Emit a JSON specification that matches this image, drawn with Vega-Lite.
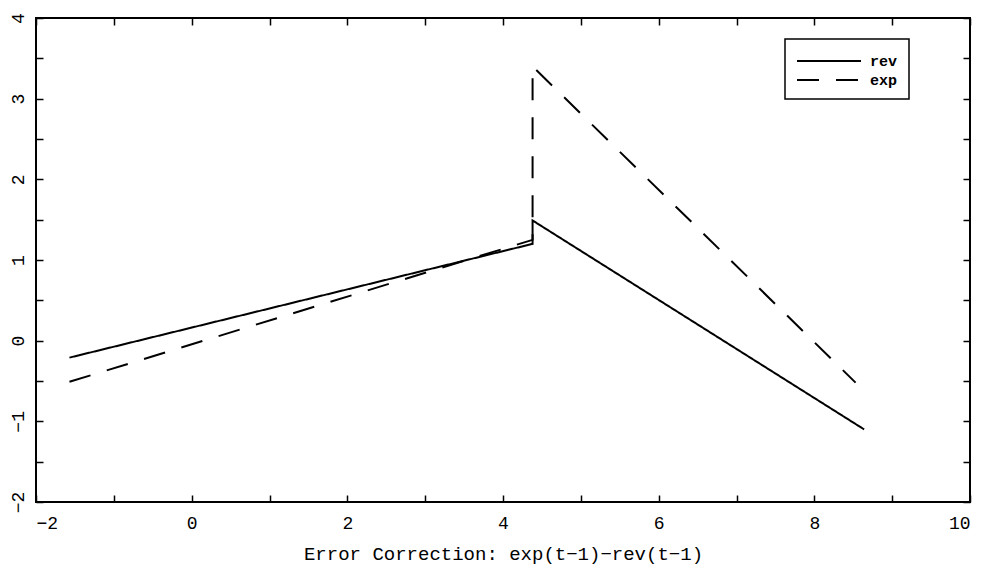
{
  "$schema": "https://vega.github.io/schema/vega-lite/v6.json",
  "width": 934,
  "height": 484,
  "autosize": {"type": "none"},
  "padding": {"left": 36, "top": 18, "right": 13, "bottom": 66},
  "background": "white",
  "config": {
    "view": {"stroke": "black", "strokeWidth": 2},
    "font": "Liberation Mono",
    "axis": {
      "grid": false,
      "domain": false,
      "tickColor": "black",
      "tickSize": -7,
      "tickWidth": 1.5,
      "labelFont": "Liberation Mono",
      "labelFontSize": 18,
      "labelColor": "black",
      "titleFont": "Liberation Mono",
      "titleFontSize": 19,
      "titleFontWeight": "normal",
      "titleColor": "black"
    }
  },
  "data": {
    "values": [
      {"series": "rev", "x": -1.57, "y": -0.21, "o": 1},
      {"series": "rev", "x": 4.38, "y": 1.2, "o": 2},
      {"series": "rev", "x": 4.38, "y": 1.49, "o": 3},
      {"series": "rev", "x": 8.64, "y": -1.1, "o": 4},
      {"series": "exp", "x": -1.57, "y": -0.51, "o": 1},
      {"series": "exp", "x": 4.38, "y": 1.25, "o": 2},
      {"series": "exp", "x": 4.38, "y": 3.4, "o": 3},
      {"series": "exp", "x": 8.53, "y": -0.52, "o": 4}
    ]
  },
  "layer": [
    {
      "mark": {"type": "line", "color": "black", "strokeWidth": 2},
      "encoding": {
        "x": {
          "field": "x", "type": "quantitative",
          "scale": {"domain": [-2, 10], "nice": false, "zero": false},
          "axis": {
            "orient": "bottom",
            "values": [-2, -1, 0, 1, 2, 3, 4, 5, 6, 7, 8, 9, 10],
            "labelExpr": "datum.value % 2 == 0 ? datum.label : ''",
            "labelPadding": 19,
            "title": "Error Correction: exp(t−1)−rev(t−1)",
            "titlePadding": 12
          }
        },
        "y": {
          "field": "y", "type": "quantitative",
          "scale": {"domain": [-2, 4], "nice": false, "zero": false},
          "axis": {
            "orient": "left",
            "values": [-2, -1.5, -1, -0.5, 0, 0.5, 1, 1.5, 2, 2.5, 3, 3.5, 4],
            "format": "~g",
            "labelExpr": "datum.value % 1 == 0 ? datum.label : ''",
            "labelAngle": -90,
            "labelAlign": "center",
            "labelBaseline": "bottom",
            "labelPadding": 16,
            "title": null
          }
        },
        "order": {"field": "o"},
        "detail": {"field": "series"},
        "strokeDash": {
          "field": "series", "type": "nominal",
          "scale": {"domain": ["rev", "exp"], "range": [[1, 0], [22, 17]]},
          "legend": {
            "title": null,
            "orient": "none",
            "legendX": 749,
            "legendY": 21,
            "strokeColor": "black",
            "padding": 11,
            "symbolType": "M-1,0L5.4,0",
            "symbolSize": 400,
            "symbolStrokeColor": "black",
            "symbolStrokeWidth": 2,
            "labelFont": "Liberation Mono",
            "labelFontSize": 15,
            "labelFontWeight": "bold",
            "labelColor": "black",
            "labelExpr": "datum.label + '\u00a0\u00a0'",
            "rowPadding": 0,
            "labelOffset": 52,
            "fillColor": "white",
            "encode": {"legend": {"update": {"strokeWidth": {"value": 1.5}}}}
          }
        }
      }
    },
    {
      "mark": {"type": "point", "opacity": 0},
      "encoding": {
        "x": {
          "field": "x", "type": "quantitative",
          "axis": {
            "orient": "top",
            "values": [-2, -1, 0, 1, 2, 3, 4, 5, 6, 7, 8, 9, 10],
            "labels": false,
            "title": null
          }
        },
        "y": {
          "field": "y", "type": "quantitative",
          "axis": {
            "orient": "right",
            "values": [-2, -1.5, -1, -0.5, 0, 0.5, 1, 1.5, 2, 2.5, 3, 3.5, 4],
            "labels": false,
            "title": null
          }
        }
      }
    }
  ],
  "resolve": {"axis": {"x": "independent", "y": "independent"}}
}
